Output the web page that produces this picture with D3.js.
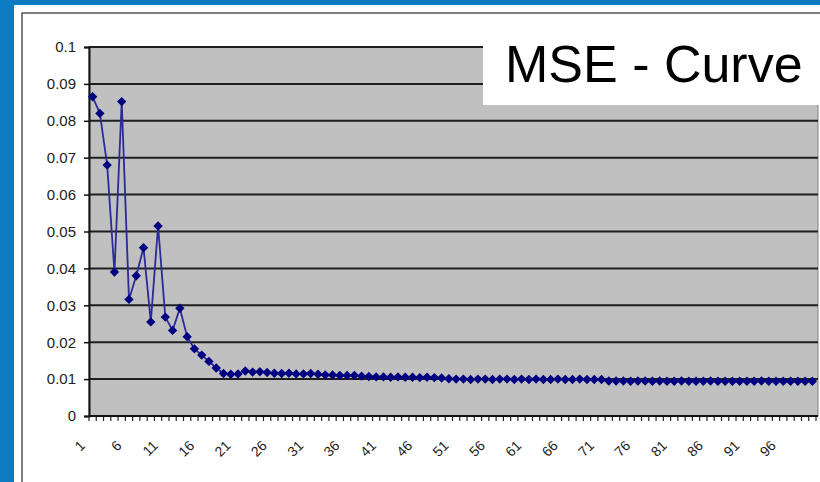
<!DOCTYPE html>
<html>
<head>
<meta charset="utf-8">
<script src="https://cdn.jsdelivr.net/npm/d3@7"></script>
<style>
  html, body { margin: 0; padding: 0; background: #0b7cc1; }
  svg { display: block; font-family: Arial, "Liberation Sans", sans-serif; }
</style>
</head>
<body>
<div id="chart"></div>
<script>
// wymiary strony i obszaru wykresu
const width = 820;
const height = 482;
const plot = { left: 89, right: 816, top: 47, bottom: 416 };

// dane: numery epok i wartości MSE
const epochs = d3.range(1, 101);
const mse = [
  0.0865, 0.0820, 0.0680, 0.0390, 0.0852, 0.0316, 0.0380, 0.0456, 0.0255, 0.0515,
  0.0268, 0.0232, 0.0292, 0.0215, 0.0182, 0.0165, 0.0148, 0.0130, 0.0115, 0.0113,
  0.0114, 0.0122, 0.0119, 0.0120, 0.0118, 0.0116, 0.0115, 0.0116, 0.0114, 0.0114,
  0.0115, 0.0113, 0.0111, 0.0111, 0.0110, 0.0110, 0.0110, 0.0108, 0.0107, 0.0106,
  0.0106, 0.0105, 0.0106, 0.0105, 0.0105, 0.0104, 0.0105, 0.0104, 0.0103, 0.0101,
  0.0100, 0.0100, 0.0099, 0.0100, 0.0100, 0.0099, 0.0100, 0.0100, 0.0099, 0.0100,
  0.0099, 0.0100, 0.0099, 0.0099, 0.0100, 0.0099, 0.0099, 0.0100, 0.0099, 0.0099,
  0.0099, 0.0095, 0.0095, 0.0095, 0.0094, 0.0095, 0.0095, 0.0094, 0.0095, 0.0094,
  0.0094, 0.0095, 0.0094, 0.0094, 0.0094, 0.0095, 0.0094, 0.0094, 0.0094, 0.0094,
  0.0094, 0.0094, 0.0095, 0.0094, 0.0094, 0.0094, 0.0094, 0.0094, 0.0094, 0.0094
];
const yTicks = [0, 0.01, 0.02, 0.03, 0.04, 0.05, 0.06, 0.07, 0.08, 0.09, 0.1];
const xLabels = [1, 6, 11, 16, 21, 26, 31, 36, 41, 46, 51, 56, 61, 66, 71, 76, 81, 86, 91, 96];
const title = "MSE - Curve";

const svg = d3.select("#chart").append("svg")
  .attr("width", width)
  .attr("height", height);

// białe tło wykresu i ramka
svg.append("rect")
  .attr("x", 14).attr("y", 5)
  .attr("width", width).attr("height", height)
  .attr("fill", "#fff");
svg.append("rect")
  .attr("x", 22).attr("y", 13)
  .attr("width", width).attr("height", height)
  .attr("fill", "none")
  .attr("stroke", "#555")
  .attr("stroke-width", 1.5);

// skale
const x = d3.scaleBand().domain(epochs).range([plot.left, plot.right]);
const y = d3.scaleLinear().domain([0, 0.1]).range([plot.bottom, plot.top]);

// szare pole wykresu
svg.append("rect")
  .attr("x", plot.left).attr("y", plot.top)
  .attr("width", plot.right - plot.left + 2).attr("height", plot.bottom - plot.top)
  .attr("fill", "#c0c0c0")
  .attr("stroke", "#808080");

// linie siatki
svg.append("g")
  .selectAll("line")
  .data(yTicks.filter(d => d > 0))
  .join("line")
  .attr("x1", plot.left).attr("x2", plot.right + 2)
  .attr("y1", d => y(d)).attr("y2", d => y(d))
  .attr("stroke", "#1e1e1e")
  .attr("stroke-width", 2);

// oś Y
const yAxis = svg.append("g")
  .attr("transform", `translate(${plot.left},0)`)
  .call(d3.axisLeft(y).tickValues(yTicks).tickFormat(d => d3.format("")(+d.toFixed(2))).tickSizeOuter(0).tickSize(5).tickPadding(8));
yAxis.select(".domain").attr("stroke", "#111").attr("stroke-width", 2);
yAxis.selectAll(".tick line").attr("stroke", "#111").attr("stroke-width", 1.5);
yAxis.selectAll("text").attr("font-size", 15).attr("fill", "#222");

// oś X - kreski między kategoriami
const edges = epochs.map(d => x(d)).concat([plot.right]);
svg.append("g")
  .selectAll("line")
  .data(edges)
  .join("line")
  .attr("x1", d => d).attr("x2", d => d)
  .attr("y1", plot.bottom).attr("y2", plot.bottom + 5)
  .attr("stroke", "#222")
  .attr("stroke-width", 1.2);
svg.append("line")
  .attr("x1", plot.left).attr("x2", plot.right + 2)
  .attr("y1", plot.bottom).attr("y2", plot.bottom)
  .attr("stroke", "#111").attr("stroke-width", 2);

// etykiety osi X
svg.append("g")
  .selectAll("text")
  .data(xLabels)
  .join("text")
  .attr("transform", d => `translate(${x(d) + x.bandwidth() / 2 - 10},${plot.bottom + 27}) rotate(-45)`)
  .attr("text-anchor", "end")
  .attr("dy", "0.35em")
  .attr("font-size", 14)
  .attr("fill", "#222")
  .text(d => d);

// linia MSE
const cx = (d, i) => x(epochs[i]) + x.bandwidth() / 2;
svg.append("path")
  .datum(mse)
  .attr("fill", "none")
  .attr("stroke", "#2a2a9a")
  .attr("stroke-width", 1.8)
  .attr("d", d3.line().x(cx).y(d => y(d)));

// znaczniki w kształcie rombu
svg.append("g")
  .selectAll("path")
  .data(mse)
  .join("path")
  .attr("transform", (d, i) => `translate(${cx(d, i)},${y(d)}) rotate(45)`)
  .attr("d", d3.symbol(d3.symbolSquare, 44))
  .attr("fill", "#000080");

// tytuł w białym polu
svg.append("rect")
  .attr("x", 483).attr("y", 15)
  .attr("width", 340).attr("height", 90)
  .attr("fill", "#fff");
svg.append("text")
  .attr("x", 505).attr("y", 82)
  .attr("font-size", 52)
  .attr("fill", "#000")
  .text(title);
</script>
</body>
</html>
